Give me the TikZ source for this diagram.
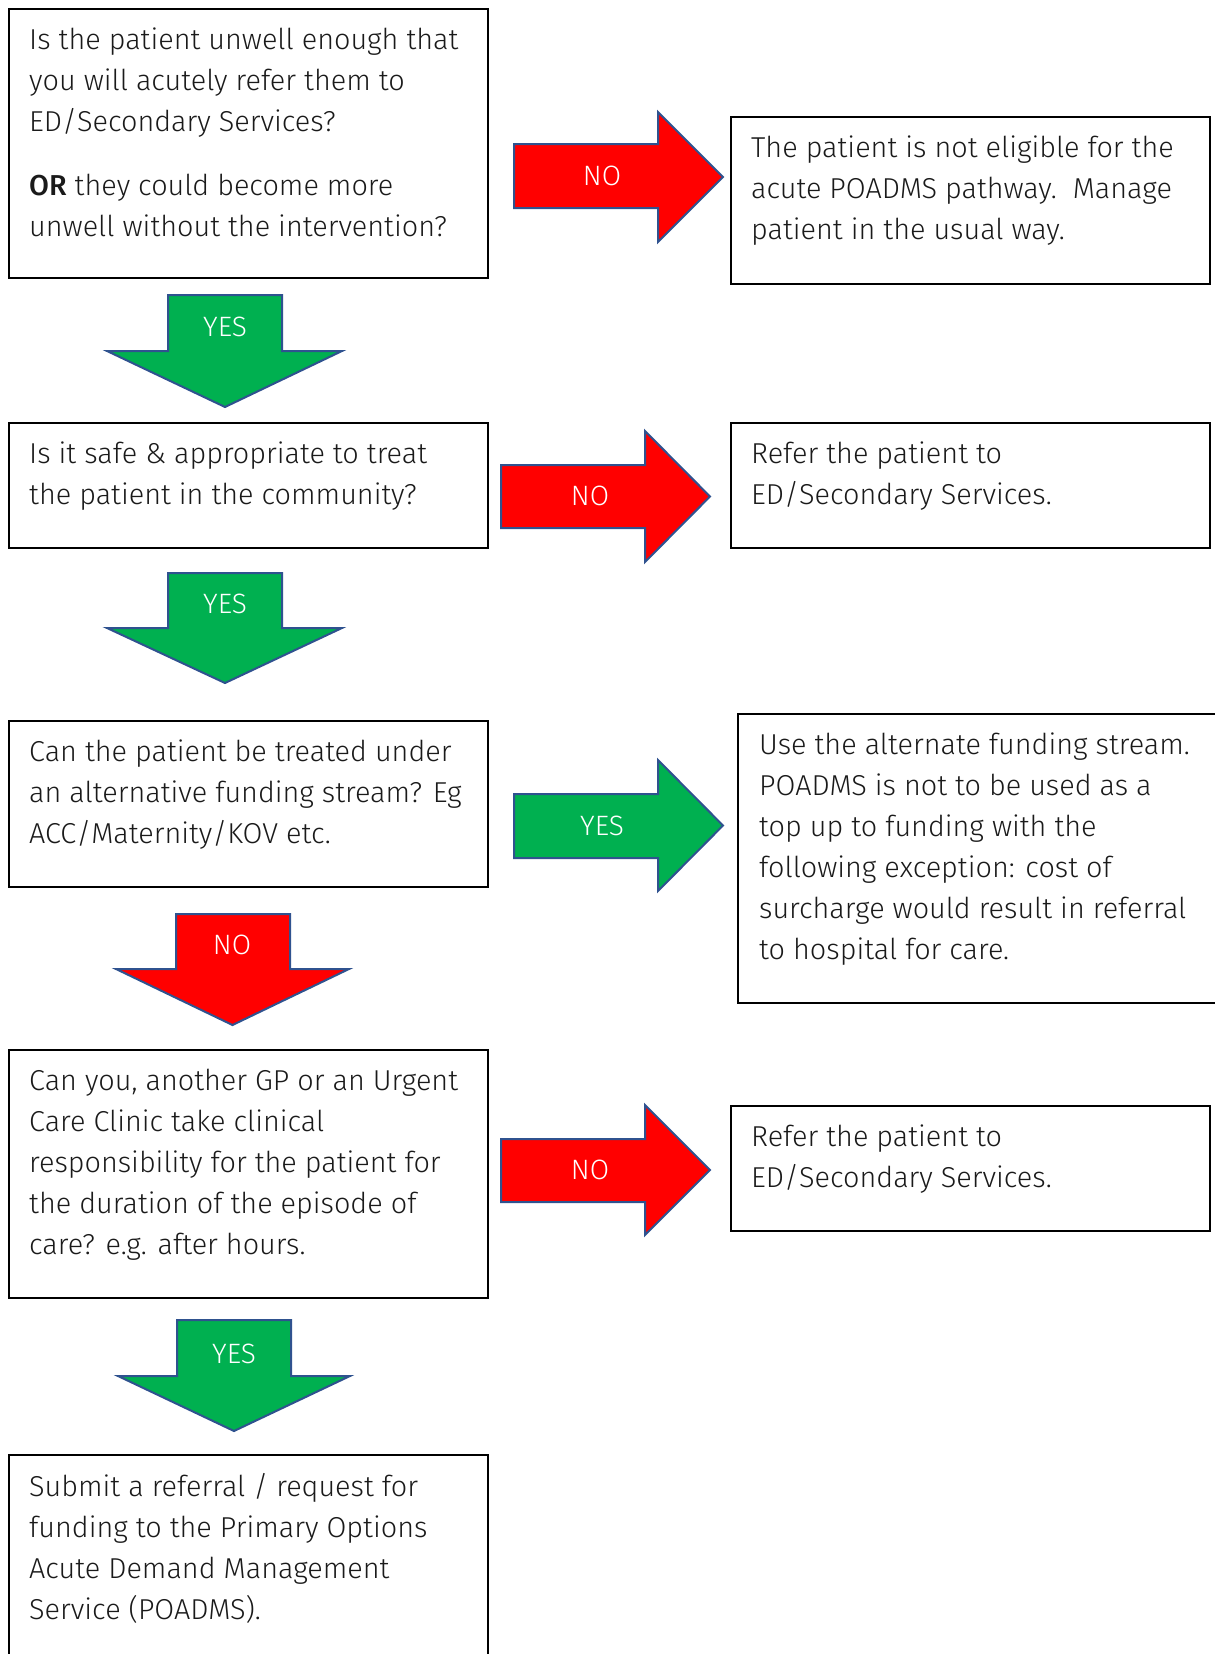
\documentclass[tikz,border=0pt]{standalone}
\usepackage{fontspec}
\setmainfont{Fira Sans}[UprightFont={* Light}, BoldFont={* Medium}]
\definecolor{arrowred}{HTML}{FF0000}
\definecolor{arrowgreen}{HTML}{00B050}
\definecolor{arrowedge}{HTML}{2F528F}
\definecolor{inktext}{HTML}{1A1A1A}
\tikzset{
  box/.style={draw=black, line width=1.6pt, anchor=north west, inner sep=0pt},
  boxtext/.style={anchor=north west, inner sep=0pt, align=left, text=inktext,
    font=\fontsize{28.8}{41}\selectfont},
  noarrow/.style={fill=arrowred, draw=arrowedge, line width=2pt},
  yesarrow/.style={fill=arrowgreen, draw=arrowedge, line width=2pt},
  arrowlabel/.style={text=white, inner sep=0pt, font=\fontsize{28}{41}\selectfont}
}
\begin{document}
\begin{tikzpicture}[x=1pt, y=-1pt]
\useasboundingbox (0,0) rectangle (1215,1654);
\clip (0,0) rectangle (1215,1654);

% question boxes on the left
\node[box, minimum width=479pt, minimum height=269pt] (q1) at (8,8) {};
\node[box, minimum width=479pt, minimum height=125pt] (q2) at (8,422) {};
\node[box, minimum width=479pt, minimum height=166pt] (q3) at (8,720) {};
\node[box, minimum width=479pt, minimum height=248pt] (q4) at (8,1049) {};
\node[box, minimum width=479pt, minimum height=230pt] (q5) at (8,1454) {};

% outcome boxes on the right
\node[box, minimum width=479pt, minimum height=167pt] (r1) at (730,116) {};
\node[box, minimum width=479pt, minimum height=125pt] (r2) at (730,422) {};
\node[box, minimum width=500pt, minimum height=289pt] (r3) at (737,713) {};
\node[box, minimum width=479pt, minimum height=125pt] (r4) at (730,1105) {};

\node[boxtext] (q1text) at ([xshift=21pt, yshift=-12.3pt]q1.north west)
  {\strut Is the patient unwell enough that\\ you will acutely refer them to\\
   ED/Secondary Services?\\[23pt] \textbf{OR} they could become more\\
   unwell without the intervention?};
\node[boxtext] (q2text) at ([xshift=21pt, yshift=-12.3pt]q2.north west)
  {\strut Is it safe \& appropriate to treat\\ the patient in the community?};
\node[boxtext] (q3text) at ([xshift=21pt, yshift=-12.3pt]q3.north west)
  {\strut Can the patient be treated under\\ an alternative funding stream? Eg\\
   ACC/Maternity/KOV etc.};
\node[boxtext] (q4text) at ([xshift=21pt, yshift=-12.3pt]q4.north west)
  {\strut Can you, another GP or an Urgent\\ Care Clinic take clinical\\
   responsibility for the patient for\\ the duration of the episode of\\
   care? e.g. after hours.};
\node[boxtext] (q5text) at ([xshift=21pt, yshift=-13.3pt]q5.north west)
  {\strut Submit a referral / request for\\ funding to the Primary Options\\
   Acute Demand Management\\ Service (POADMS).};

\node[boxtext] (r1text) at ([xshift=21pt, yshift=-12.3pt]r1.north west)
  {\strut The patient is not eligible for the\\ acute POADMS pathway.\ \ Manage\\
   patient in the usual way.};
\node[boxtext] (r2text) at ([xshift=21pt, yshift=-12.3pt]r2.north west)
  {\strut Refer the patient to\\ ED/Secondary Services.};
\node[boxtext] (r3text) at ([xshift=22pt, yshift=-12.3pt]r3.north west)
  {\strut Use the alternate funding stream.\\ POADMS is not to be used as a\\
   top up to funding with the\\ following exception: cost of\\
   surcharge would result in referral\\ to hospital for care.};
\node[boxtext] (r4text) at ([xshift=21pt, yshift=-12.3pt]r4.north west)
  {\strut Refer the patient to\\ ED/Secondary Services.};

% block arrows to the right
\draw[noarrow] (514,144) -- (658,144) -- (658,112) -- (723,177) -- (658,242) -- (658,208) -- (514,208) -- cycle;
\node[arrowlabel] (no1) at (602,176) {NO};
\draw[noarrow] (501,465) -- (645,465) -- (645,431) -- (710,496.5) -- (645,562) -- (645,528) -- (501,528) -- cycle;
\node[arrowlabel] (no2) at (590,496) {NO};
\draw[yesarrow] (514,794) -- (658,794) -- (658,760) -- (723,825.5) -- (658,891) -- (658,858) -- (514,858) -- cycle;
\node[arrowlabel] (yes3) at (602,826) {YES};
\draw[noarrow] (501,1139) -- (645,1139) -- (645,1105) -- (710,1170) -- (645,1235) -- (645,1202) -- (501,1202) -- cycle;
\node[arrowlabel] (no4) at (590,1170) {NO};

% block arrows downwards
\draw[yesarrow] (168,295) -- (282,295) -- (282,351) -- (342,351) -- (225,407) -- (107,351) -- (168,351) -- cycle;
\node[arrowlabel] (yes1) at (225,327) {YES};
\draw[yesarrow] (168,573) -- (282,573) -- (282,628) -- (342,628) -- (225,683) -- (107,628) -- (168,628) -- cycle;
\node[arrowlabel] (yes2) at (225,604) {YES};
\draw[noarrow] (176,914) -- (290,914) -- (290,969) -- (349,969) -- (232.5,1025) -- (116,969) -- (176,969) -- cycle;
\node[arrowlabel] (no3) at (232,945) {NO};
\draw[yesarrow] (177,1320) -- (291,1320) -- (291,1376) -- (350,1376) -- (234,1431) -- (118,1376) -- (177,1376) -- cycle;
\node[arrowlabel] (yes4) at (234,1354) {YES};
\end{tikzpicture}
\end{document}
